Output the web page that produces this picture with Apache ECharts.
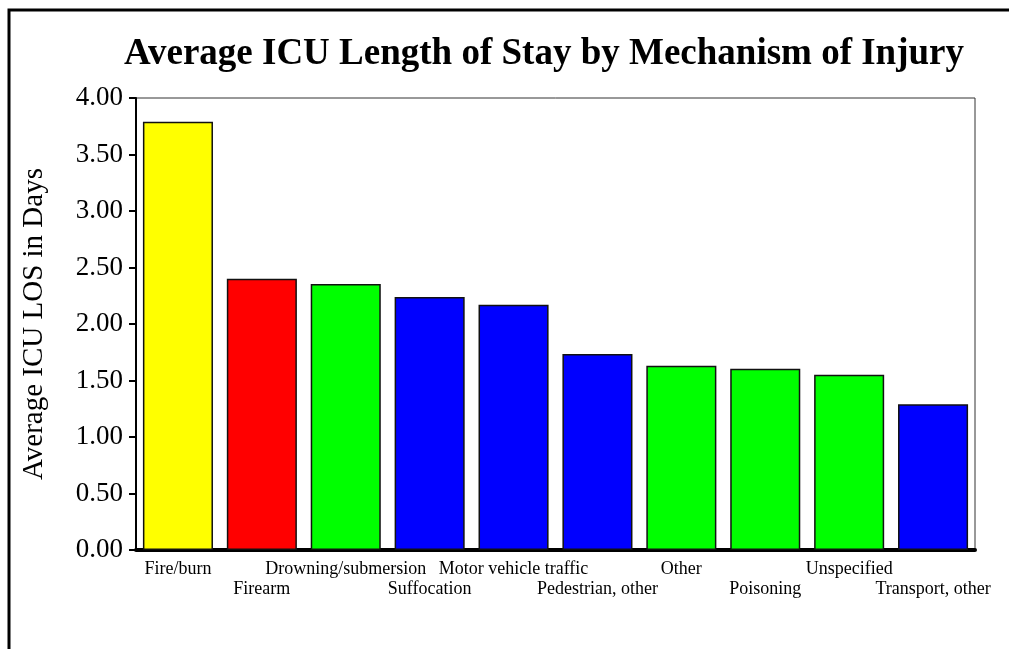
<!DOCTYPE html>
<html>
<head>
<meta charset="utf-8">
<script src="https://cdn.jsdelivr.net/npm/echarts@6/dist/echarts.min.js"></script>
<style>
  html, body { margin: 0; padding: 0; background: #fff; }
  #chart { width: 1009px; height: 649px; }
</style>
</head>
<body>
<div id="chart"></div>
<script>
// mechanism of injury categories
const categories = ['Fire/burn', 'Firearm', 'Drowning/submersion', 'Suffocation', 'Motor vehicle traffic',
  'Pedestrian, other', 'Other', 'Poisoning', 'Unspecified', 'Transport, other'];
// average ICU LOS (days)
const losValues = [3.79, 2.40, 2.355, 2.24, 2.17, 1.735, 1.63, 1.605, 1.55, 1.29];
const barColors = ['#ffff00', '#ff0000', '#00ff00', '#0000ff', '#0000ff',
  '#0000ff', '#00ff00', '#00ff00', '#00ff00', '#0000ff'];

const serif = '"Liberation Serif", "DejaVu Serif", serif';

let myChart = echarts.init(document.getElementById('chart'));

myChart.setOption({
  animation: false,
  backgroundColor: '#fff',
  title: {
    text: 'Average ICU Length of Stay by Mechanism of Injury',
    left: 539,
    textAlign: 'center',
    top: 31,
    textStyle: {
      fontFamily: serif,
      fontWeight: 'bold',
      fontSize: 37,
      color: '#000'
    }
  },
  graphic: [{
    type: 'rect',
    shape: { x: 9, y: 10, width: 1100, height: 800 },
    style: { fill: 'none', stroke: '#000', lineWidth: 3 },
    silent: true
  }],
  grid: {
    left: 136,
    top: 98,
    right: 34,
    bottom: 99,
    show: true,
    borderColor: '#333',
    borderWidth: 1
  },
  xAxis: {
    type: 'category',
    data: categories,
    axisLine: { lineStyle: { color: '#000', width: 4, cap: 'round' } },
    axisTick: { alignWithLabel: true, interval: 0, length: 5, lineStyle: { color: '#000', width: 1 } },
    axisLabel: {
      interval: 0,
      fontFamily: serif,
      fontSize: 18,
      color: '#000',
      margin: 9,
      lineHeight: 20,
      formatter: function (value, idx) {
        return idx % 2 === 1 ? '\n' + value : value; // 交错显示
      }
    }
  },
  yAxis: {
    type: 'value',
    min: 0,
    max: 4,
    interval: 0.5,
    name: 'Average ICU LOS in Days',
    nameLocation: 'middle',
    nameGap: 87,
    nameTextStyle: { fontFamily: serif, fontSize: 29, color: '#000' },
    axisLine: { show: true, lineStyle: { color: '#000', width: 2 } },
    axisTick: { show: true, length: 7, lineStyle: { color: '#000', width: 2 } },
    splitLine: { show: false },
    axisLabel: {
      fontFamily: serif,
      fontSize: 27,
      color: '#000',
      margin: 13,
      formatter: function (v) { return v.toFixed(2); }
    }
  },
  series: [{
    type: 'bar',
    data: losValues.map(function (v, i) {
      return { value: v, itemStyle: { color: barColors[i] } };
    }),
    barCategoryGap: '16.5%',
    itemStyle: { borderColor: '#111', borderWidth: 1.5 }
  }]
});
</script>
</body>
</html>
